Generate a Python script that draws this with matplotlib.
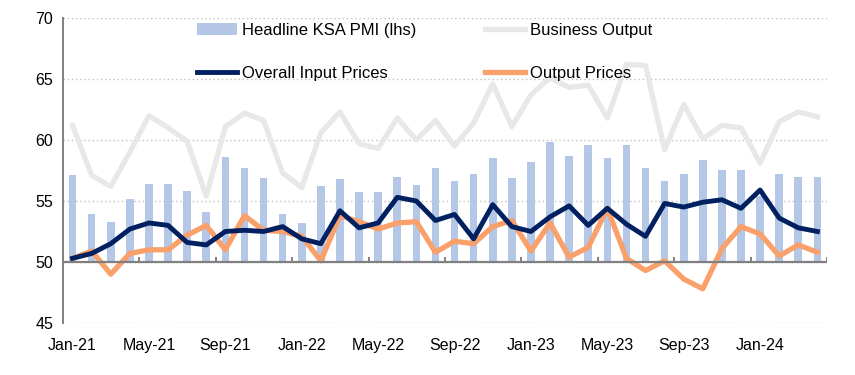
import numpy as np
import matplotlib
matplotlib.use("Agg")
import matplotlib.pyplot as plt

plt.rcParams['font.family'] = ['Liberation Sans', 'DejaVu Sans']

months = ["Jan-21","Feb-21","Mar-21","Apr-21","May-21","Jun-21","Jul-21","Aug-21","Sep-21","Oct-21","Nov-21","Dec-21",
          "Jan-22","Feb-22","Mar-22","Apr-22","May-22","Jun-22","Jul-22","Aug-22","Sep-22","Oct-22","Nov-22","Dec-22",
          "Jan-23","Feb-23","Mar-23","Apr-23","May-23","Jun-23","Jul-23","Aug-23","Sep-23","Oct-23","Nov-23","Dec-23",
          "Jan-24","Feb-24","Mar-24","Apr-24"]

headline_pmi = [57.1, 53.9, 53.3, 55.2, 56.4, 56.4, 55.8, 54.1, 58.6, 57.7, 56.9, 53.9,
                53.2, 56.2, 56.8, 55.7, 55.7, 57.0, 56.3, 57.7, 56.6, 57.2, 58.5, 56.9,
                58.2, 59.8, 58.7, 59.6, 58.5, 59.6, 57.7, 56.6, 57.2, 58.4, 57.5, 57.5,
                55.4, 57.2, 57.0, 57.0]

business_output = [61.2, 57.1, 56.2, 59.0, 62.0, 61.0, 59.9, 55.4, 61.1, 62.2, 61.6, 57.3,
                   56.1, 60.6, 62.3, 59.7, 59.3, 61.8, 60.0, 61.6, 59.5, 61.4, 64.6, 61.1,
                   63.7, 65.1, 64.3, 64.5, 61.8, 66.2, 66.1, 59.2, 62.9, 60.1, 61.2, 61.0,
                   58.1, 61.5, 62.3, 61.9]

overall_input_prices = [50.3, 50.7, 51.5, 52.7, 53.2, 53.0, 51.6, 51.4, 52.5, 52.6, 52.5, 52.9,
                        51.9, 51.5, 54.2, 52.8, 53.2, 55.3, 55.0, 53.4, 53.9, 51.9, 54.7, 52.9,
                        52.5, 53.7, 54.6, 53.0, 54.4, 53.1, 52.1, 54.8, 54.5, 54.9, 55.1, 54.4,
                        55.9, 53.6, 52.8, 52.5]

output_prices = [50.3, 50.9, 49.0, 50.7, 51.0, 51.0, 52.2, 53.0, 51.0, 53.8, 52.6, 52.5,
                 52.1, 50.1, 53.8, 53.3, 52.7, 53.2, 53.3, 50.8, 51.7, 51.5, 52.9, 53.4,
                 50.9, 53.2, 50.4, 51.2, 54.4, 50.3, 49.3, 50.1, 48.6, 47.8, 51.1, 52.9,
                 52.3, 50.5, 51.4, 50.8]

tick_labels = months[::4]

fig = plt.figure(figsize=(8.55, 3.75), dpi=100)
ax = fig.add_axes([0.0737, 0.1387, 0.8935, 0.8133])

n = len(months)
x = np.arange(n)
base = 50

ax.bar(x, np.array(headline_pmi) - base, bottom=base, width=0.4, color='#B4C7E7',
       label='Headline KSA PMI (lhs)', zorder=2)
ax.plot(x, business_output, color='#E8E8E8', lw=3.8, label='Business Output', zorder=3,
        solid_joinstyle='round')
ax.plot(x, overall_input_prices, color='#002060', lw=3.5, label='Overall Input Prices', zorder=5,
        solid_joinstyle='round')
ax.plot(x, output_prices, color='#F9A06B', lw=3.8, label='Output Prices', zorder=4,
        solid_joinstyle='round')

ax.set_xlim(-0.5, n - 0.5)
ax.set_ylim(45, 70)
ax.set_yticks(np.arange(45, 71, 5))
ax.yaxis.grid(True, linestyle=(0, (1, 2)), color='#BFBFBF', lw=1.0, zorder=0)
ax.set_axisbelow(True)

# category axis crossing at 50
ax.axhline(base, color='#808080', lw=1.6, zorder=6)
bounds = np.arange(-0.5, n, 4)
ax.vlines(bounds, base, base + 0.4, color='#808080', lw=1.4, zorder=6)

for s in ['top', 'right', 'bottom']:
    ax.spines[s].set_visible(False)
ax.spines['left'].set_color('#808080')
ax.spines['left'].set_linewidth(1.4)

ax.set_xticks(x[::4])
ax.set_xticklabels(tick_labels)
ax.tick_params(axis='x', length=0, pad=11, labelsize=11.5)
ax.tick_params(axis='y', length=0, pad=7, labelsize=11.5)

h, l = ax.get_legend_handles_labels()
order = [l.index('Headline KSA PMI (lhs)'), l.index('Overall Input Prices'),
         l.index('Business Output'), l.index('Output Prices')]
ax.legend([h[i] for i in order], [l[i] for i in order], ncol=2, frameon=False,
          loc='upper left', bbox_to_anchor=(0.176, 0.985), borderpad=0, borderaxespad=0,
          handlelength=2.4, handletextpad=0.3, columnspacing=4.1, labelspacing=1.72,
          fontsize=12)

fig.savefig('out.png', dpi=100)
